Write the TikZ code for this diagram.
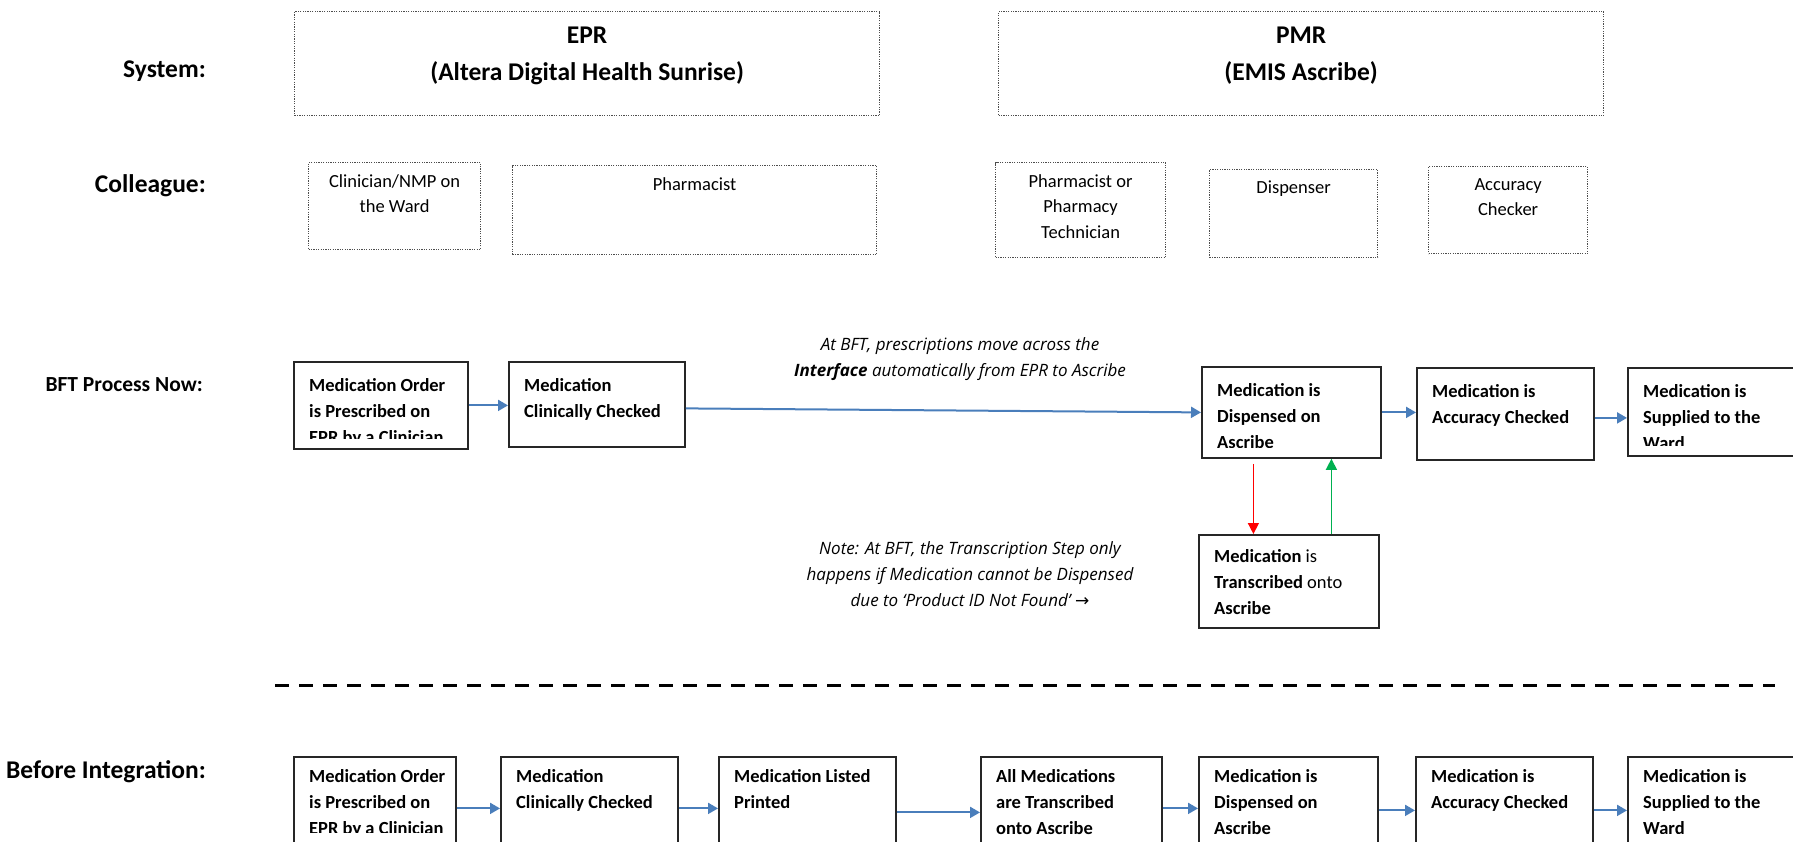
\documentclass[tikz,border=0pt]{standalone}
\usepackage{fontspec}
\setmainfont{Carlito}
\newfontfamily\notefont{Open Sans}
\newfontfamily\arrowfont{DejaVu Sans}
\usepackage{tikz}
\usetikzlibrary{arrows.meta, positioning}
\definecolor{FlowBlue}{HTML}{4A7EBB}
\definecolor{StopRed}{HTML}{FF0000}
\definecolor{GoGreen}{HTML}{00B050}
\definecolor{EdgeGray}{HTML}{262626}
\definecolor{DotGray}{HTML}{4D4D4D}

\begin{document}
\begin{tikzpicture}[x=1pt, y=-1pt,
  rowlabel/.style={anchor=base east, inner sep=0pt, font=\fontsize{25.5}{30}\selectfont\bfseries},
  sysbox/.style={draw=DotGray, line width=1.2pt, dash pattern=on 1.2pt off 1.2pt, anchor=north west, inner sep=0pt},
  roletext/.style={anchor=north, inner sep=0pt, align=center, font=\fontsize{18.5}{25.5}\selectfont},
  stepbox/.style={draw=EdgeGray, line width=1.8pt, anchor=north west, inner sep=0pt},
  steptext/.style={anchor=north west, inner sep=0pt, align=left, font=\fontsize{18.5}{26}\selectfont\bfseries},
  notetext/.style={anchor=north, inner sep=0pt, align=center, font=\notefont\fontsize{17}{26}\selectfont\itshape},
  flow/.style={FlowBlue, line width=2pt, -{Triangle[length=10pt, width=11pt]}}
]
  \fill[white] (0,0) rectangle (1793,842);
  \useasboundingbox (0,0) rectangle (1793,842);

  % Row labels
  \node[rowlabel] (sysLbl) at (206,78) {System:};
  \node[rowlabel] (colLbl) at (206,193) {Colleague:};
  \node[rowlabel, font=\fontsize{21.5}{26}\selectfont\bfseries] (nowLbl) at (203,391) {BFT Process Now:};
  \node[rowlabel] (preLbl) at (206,778) {Before Integration:};

  % Systems
  \node[sysbox, minimum width=585pt, minimum height=104pt] (epr) at (294,11) {};
  \node[roletext, font=\fontsize{25.5}{37}\selectfont\bfseries] (eprTxt)
    at ([yshift=-16pt]epr.north) {EPR\\(Altera Digital Health Sunrise)};
  \node[sysbox, minimum width=605pt, minimum height=104pt] (pmr) at (998,11) {};
  \node[roletext, font=\fontsize{25.5}{37}\selectfont\bfseries] (pmrTxt)
    at ([yshift=-16pt]pmr.north) {PMR\\(EMIS Ascribe)};

  % Colleagues
  \foreach \nm/\x/\y/\w/\h/\txt in {
      clin/308/162/172/87/{Clinician/NMP on\\the Ward},
      phar/512/165/364/89/{Pharmacist},
      tech/995/162/170/95/{Pharmacist or\\Pharmacy\\Technician},
      disp/1209/169/168/88/{Dispenser},
      acc/1428/166/159/87/{Accuracy\\Checker}}{
    \node[sysbox, minimum width=\w pt, minimum height=\h pt] (\nm) at (\x,\y) {};
    \node[roletext] (\nm-txt) at ([yshift=-12pt]\nm.north) {\txt};
  }

  % Process steps: name/x/y/w/h/text drop/cut above foot/text
  \foreach \nm/\x/\y/\w/\h/\t/\c/\txt in {
      a1/293/361/174/87/17/10/{Medication Order\\is Prescribed on\\EPR by a Clinician},
      a2/508/361/176/85/17/10/{Medication\\Clinically Checked},
      d1/1201/366/179/91/17/10/{Medication is\\Dispensed on\\Ascribe},
      ac/1416/367/177/92/17/10/{Medication is\\Accuracy Checked},
      sup/1627/367/180/88/17/10/{Medication is\\Supplied to the\\Ward},
      tr/1198/534/180/93/15/10/{Medication \textmd{is}\\Transcribed \textmd{onto}\\Ascribe},
      b1/293/756/162/87/13.5/11/{Medication Order\\is Prescribed on\\EPR by a Clinician},
      b2/500/756/177/87/13.5/11/{Medication\\Clinically Checked},
      b3/718/756/177/87/13.5/11/{Medication Listed\\Printed},
      b4/980/756/181/87/13.5/5/{All Medications\\are Transcribed\\onto Ascribe},
      b5/1198/756/179/87/13.5/5/{Medication is\\Dispensed on\\Ascribe},
      b6/1415/756/177/87/13.5/11/{Medication is\\Accuracy Checked},
      b7/1627/756/180/87/13.5/10/{Medication is\\Supplied to the\\Ward}}{
    \begin{scope}
      \clip (\x,\y) rectangle ++(\w,\h-\c);
      \node[steptext] (\nm-txt) at (\x+16,\y+\t) {\txt};
    \end{scope}
    \node[stepbox, minimum width=\w pt, minimum height=\h pt] (\nm) at (\x,\y) {};
  }

  % BFT flow
  \draw[flow] (a1.east) -- (a1.east -| a2.west);
  \draw[flow] ([yshift=-4pt]a2.east) -- (d1.west);
  \draw[flow] (d1.east) -- (d1.east -| ac.west);
  \draw[flow] ([yshift=-4pt]ac.east) -- ([yshift=-4pt]ac.east -| sup.west);
  \draw[StopRed, line width=1.5pt, -{Triangle[length=11pt, width=11pt]}]
    ([xshift=-38pt, yshift=-5pt]d1.south) -- ([xshift=-38pt]d1.south |- tr.north);
  \draw[GoGreen, line width=1.5pt, -{Triangle[length=11pt, width=11pt]}]
    ([xshift=40pt]d1.south |- tr.north) -- ([xshift=40pt]d1.south);

  % Notes
  \node[notetext] (ifaceNote) at (960,337)
    {At BFT, prescriptions move across the\\\textbf{Interface} automatically from EPR to Ascribe};
  \node[notetext] (transNote) at (970,541)
    {Note: At BFT, the Transcription Step only\\happens if Medication cannot be Dispensed\\due to ‘Product ID Not Found’ {\arrowfont →}};

  % Divider
  \coordinate (cutL) at (275,685);
  \coordinate (cutR) at (1775,685);
  \draw[black, line width=3pt, dash pattern=on 14pt off 10pt] (cutL) -- (cutR);

  % Before integration flow
  \foreach \p/\q/\s in {b1/b2/8, b2/b3/8, b3/b4/12, b4/b5/8, b5/b6/10, b6/b7/10}
    \draw[flow] ([yshift=-\s pt]\p.east) -- ([yshift=-\s pt]\p.east -| \q.west);
\end{tikzpicture}
\end{document}
